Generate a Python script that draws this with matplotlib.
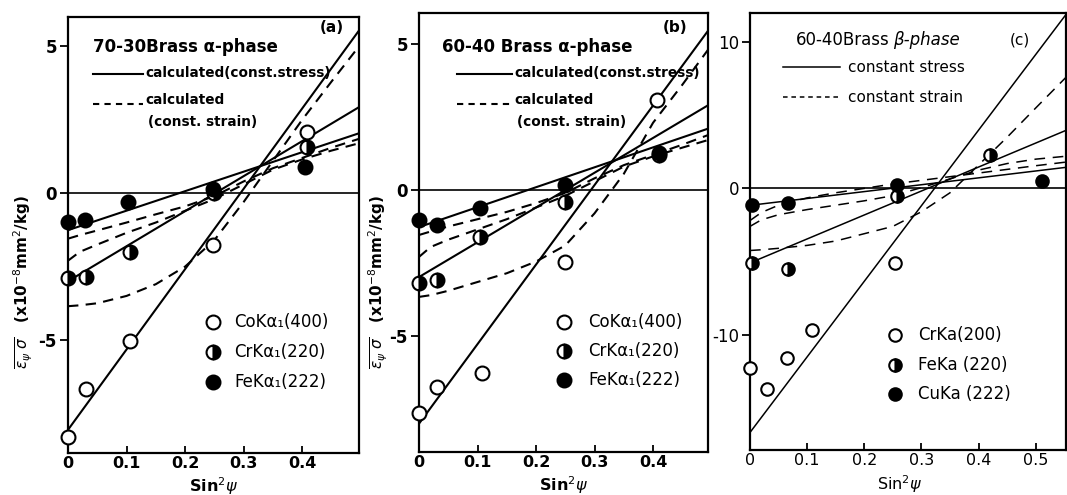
import numpy as np
import matplotlib.pyplot as plt
from matplotlib.lines import Line2D

W, H = 1067, 495

# ---- panel (a): 70-30 brass, alpha phase ----
a_co_x = [0, 0.031, 0.106, 0.248, 0.408]
a_co_y = [-8.3, -6.67, -5.03, -1.77, 2.08]
a_cr_x = [0, 0.031, 0.106, 0.25, 0.408]
a_cr_y = [-2.9, -2.85, -2.0, 0.0, 1.57]
a_fe_x = [0, 0.029, 0.103, 0.248, 0.405]
a_fe_y = [-0.98, -0.9, -0.3, 0.15, 0.88]

a_stress_x = [0, 0.497]
a_stress_co = [-8.06, 5.54]
a_stress_cr = [-3.0, 2.93]
a_stress_fe = [-1.26, 2.04]

a_strain_x = [0, 0.02, 0.05, 0.1, 0.15, 0.2, 0.25, 0.3, 0.35, 0.4, 0.45, 0.497]
a_strain_co = [-3.85, -3.82, -3.75, -3.5, -3.1, -2.5, -1.6, -0.3, 1.1, 2.5, 3.8, 5.0]
a_strain_cr = [-2.3, -2.0, -1.75, -1.35, -1.0, -0.6, -0.2, 0.3, 0.8, 1.15, 1.45, 1.7]
a_strain_fe = [-1.55, -1.43, -1.27, -1.0, -0.72, -0.45, -0.1, 0.4, 0.85, 1.2, 1.55, 1.85]

# ---- panel (b): 60-40 brass, alpha phase ----
b_co_x = [0, 0.031, 0.107, 0.25, 0.407]
b_co_y = [-7.64, -6.74, -6.27, -2.45, 3.08]
b_cr_x = [0, 0.031, 0.104, 0.25, 0.41]
b_cr_y = [-3.18, -3.08, -1.6, -0.41, 1.2]
b_fe_x = [0, 0.031, 0.104, 0.25, 0.41]
b_fe_y = [-1.03, -1.2, -0.62, 0.17, 1.27]

b_stress_x = [0, 0.494]
b_stress_co = [-8.0, 5.45]
b_stress_cr = [-2.98, 2.9]
b_stress_fe = [-1.27, 2.1]

b_strain_x = [0, 0.02, 0.05, 0.1, 0.15, 0.2, 0.25, 0.3, 0.35, 0.4, 0.45, 0.494]
b_strain_co = [-3.66, -3.6, -3.45, -3.15, -2.85, -2.45, -1.9, -0.8, 0.55, 2.3, 3.6, 4.8]
b_strain_cr = [-2.29, -1.95, -1.7, -1.35, -1.0, -0.6, -0.2, 0.3, 0.8, 1.15, 1.45, 1.71]
b_strain_fe = [-1.54, -1.42, -1.25, -1.0, -0.75, -0.45, -0.1, 0.4, 0.85, 1.2, 1.55, 1.88]

# ---- panel (c): 60-40 brass, beta phase ----
c_cr_x = [0, 0.029, 0.064, 0.108, 0.254]
c_cr_y = [-12.3, -13.7, -11.6, -9.7, -5.1]
c_fe_x = [0.003, 0.067, 0.257, 0.42]
c_fe_y = [-5.1, -5.5, -0.5, 2.26]
c_cu_x = [0.003, 0.067, 0.257, 0.511]
c_cu_y = [-1.16, -1.0, 0.2, 0.48]

c_stress_x = [0, 0.553]
c_stress_cr = [-16.7, 11.9]
c_stress_fe = [-5.1, 3.97]
c_stress_cu = [-1.16, 1.44]

c_strain_x = [0, 0.02, 0.05, 0.1, 0.15, 0.2, 0.25, 0.3, 0.35, 0.4, 0.45, 0.5, 0.553]
c_strain_cr = [-4.25, -4.2, -4.1, -3.9, -3.6, -3.1, -2.6, -1.6, -0.3, 1.6, 3.5, 5.5, 7.6]
c_strain_fe = [-2.6, -2.15, -1.8, -1.45, -1.15, -0.85, -0.5, 0.05, 0.65, 1.25, 1.7, 2.0, 2.2]
c_strain_cu = [-2.2, -1.65, -1.15, -0.65, -0.3, 0.0, 0.3, 0.55, 0.8, 1.05, 1.3, 1.55, 1.8]

x_ticks_ab = [0, 0.1, 0.2, 0.3, 0.4]
x_labels_ab = ['0', '0.1', '0.2', '0.3', '0.4']
x_ticks_c = [0, 0.1, 0.2, 0.3, 0.4, 0.5]
x_labels_c = ['0', '0.1', '0.2', '0.3', '0.4', '0.5']


def fx(px):
    return px / W


def fy(py):
    return 1 - py / H


def ax_rect(l, t, r, b):
    return [fx(l), fy(b), (r - l) / W, (b - t) / H]


fig = plt.figure(figsize=(W / 100, H / 100), dpi=100)

ax_a = fig.add_axes(ax_rect(68, 17, 359, 453))
ax_b = fig.add_axes(ax_rect(419, 13, 708, 452))
ax_c = fig.add_axes(ax_rect(750, 13, 1066, 450))

DASH = (5, 3.5)


def draw_points(ax, x, y, kind, ms=10):
    if kind == 'open':
        ax.plot(x, y, 'o', ms=ms, mfc='white', mec='black', mew=1.5, zorder=5, clip_on=False)
    elif kind == 'half':
        ax.plot(x, y, 'o', ms=ms, mfc='black', mfcalt='white', fillstyle='right',
                mec='black', mew=1.5, zorder=5, clip_on=False)
    else:
        ax.plot(x, y, 'o', ms=ms, mfc='black', mec='black', mew=1.5, zorder=5, clip_on=False)


def style_axes(ax, xlim, ylim, xt, xl, yt, yl, bold):
    ax.set_xlim(*xlim)
    ax.set_ylim(*ylim)
    ax.axhline(0, color='black', lw=1.2, zorder=1)
    ax.set_xticks(xt)
    ax.set_xticklabels(xl)
    ax.set_yticks(yt)
    ax.set_yticklabels(yl)
    ax.tick_params(axis='x', direction='in', length=5, width=1.3, labelsize=11.5, pad=2)
    ax.tick_params(axis='y', direction='out', length=6, width=1.3, labelsize=12, pad=2)
    for lab in ax.get_xticklabels() + ax.get_yticklabels():
        lab.set_fontweight('bold' if bold else 'normal')
    for s in ax.spines.values():
        s.set_linewidth(1.6)


# panel (a)
lw_ab = 1.5
for ys in [a_stress_co, a_stress_cr, a_stress_fe]:
    ax_a.plot(a_stress_x, ys, color='black', lw=lw_ab)
for ys in [a_strain_co, a_strain_cr, a_strain_fe]:
    ax_a.plot(a_strain_x, ys, color='black', lw=lw_ab, dashes=DASH)
draw_points(ax_a, a_co_x, a_co_y, 'open')
draw_points(ax_a, a_cr_x, a_cr_y, 'half')
draw_points(ax_a, a_fe_x, a_fe_y, 'filled')
style_axes(ax_a, (0, 0.497), (-8.85, 6.0), x_ticks_ab, x_labels_ab, [5, 0, -5], ['5', '0', '-5'], True)

# panel (b)
for ys in [b_stress_co, b_stress_cr, b_stress_fe]:
    ax_b.plot(b_stress_x, ys, color='black', lw=lw_ab)
for ys in [b_strain_co, b_strain_cr, b_strain_fe]:
    ax_b.plot(b_strain_x, ys, color='black', lw=lw_ab, dashes=DASH)
draw_points(ax_b, b_co_x, b_co_y, 'open')
draw_points(ax_b, b_cr_x, b_cr_y, 'half')
draw_points(ax_b, b_fe_x, b_fe_y, 'filled')
style_axes(ax_b, (0, 0.494), (-8.97, 6.06), x_ticks_ab, x_labels_ab, [5, 0, -5], ['5', '0', '-5'], True)

# panel (c)
lw_c = 1.1
for ys in [c_stress_cr, c_stress_fe, c_stress_cu]:
    ax_c.plot(c_stress_x, ys, color='black', lw=lw_c)
for ys in [c_strain_cr, c_strain_fe, c_strain_cu]:
    ax_c.plot(c_strain_x, ys, color='black', lw=lw_c, dashes=(7, 5))
draw_points(ax_c, c_cr_x, c_cr_y, 'open', ms=9)
draw_points(ax_c, c_fe_x, c_fe_y, 'half', ms=9)
draw_points(ax_c, c_cu_x, c_cu_y, 'filled', ms=9)
style_axes(ax_c, (0, 0.553), (-17.9, 12.0), x_ticks_c, x_labels_c, [10, 0, -10], ['10', '0', '-10'], False)


# ---- annotations (figure pixel positions) ----
def ftext(px, py, s, **kw):
    kw.setdefault('va', 'center')
    fig.text(fx(px), fy(py), s, **kw)


def fline(x0, x1, py, dashed=False, lw=1.5):
    ln = Line2D([fx(x0), fx(x1)], [fy(py), fy(py)], color='black', lw=lw,
                transform=fig.transFigure)
    if dashed:
        ln.set_dashes((3, 2.5))
    fig.add_artist(ln)


def fmarker(px, py, kind, ms=10):
    kw = dict(ms=ms, mec='black', mew=1.5, transform=fig.transFigure)
    if kind == 'open':
        ln = Line2D([fx(px)], [fy(py)], marker='o', mfc='white', **kw)
    elif kind == 'half':
        ln = Line2D([fx(px)], [fy(py)], marker='o', mfc='black', fillstyle='right',
                    markerfacecoloralt='white', **kw)
    else:
        ln = Line2D([fx(px)], [fy(py)], marker='o', mfc='black', **kw)
    fig.add_artist(ln)


# (a)
ftext(93, 47, '70-30Brass α-phase', fontsize=12, fontweight='bold')
ftext(320, 28, '(a)', fontsize=11, fontweight='bold')
fline(93, 143, 74)
ftext(145, 73, 'calculated(const.stress)', fontsize=9.8, fontweight='bold')
fline(93, 143, 104, dashed=True)
ftext(145, 100, 'calculated', fontsize=9.8, fontweight='bold')
ftext(148, 122, '(const. strain)', fontsize=9.8, fontweight='bold')
fmarker(213, 322, 'open')
fmarker(213, 352, 'half')
fmarker(213, 382, 'filled')
ftext(234, 322, 'CoKα₁(400)', fontsize=12)
ftext(234, 352, 'CrKα₁(220)', fontsize=12)
ftext(234, 382, 'FeKα₁(222)', fontsize=12)
ftext(213, 486, 'Sin$^2\\psi$', fontsize=11.5, fontweight='bold', ha='center')
ftext(23, 282, r'$\overline{\varepsilon_\psi\ \sigma}$   (x10$^{-8}$mm$^2$/kg)', fontsize=11,
      rotation=90, ha='center', fontweight='bold')

# (b)
ftext(442, 47, '60-40 Brass α-phase', fontsize=12, fontweight='bold')
ftext(663, 28, '(b)', fontsize=11, fontweight='bold')
fline(457, 512, 74)
ftext(514, 73, 'calculated(const.stress)', fontsize=9.8, fontweight='bold')
fline(457, 512, 104, dashed=True)
ftext(514, 100, 'calculated', fontsize=9.8, fontweight='bold')
ftext(517, 122, '(const. strain)', fontsize=9.8, fontweight='bold')
fmarker(564, 322, 'open')
fmarker(564, 351, 'half')
fmarker(564, 380, 'filled')
ftext(588, 322, 'CoKα₁(400)', fontsize=12)
ftext(588, 351, 'CrKα₁(220)', fontsize=12)
ftext(588, 380, 'FeKα₁(222)', fontsize=12)
ftext(563, 485, 'Sin$^2\\psi$', fontsize=11.5, fontweight='bold', ha='center')
ftext(378, 282, r'$\overline{\varepsilon_\psi\ \sigma}$   (x10$^{-8}$mm$^2$/kg)', fontsize=11,
      rotation=90, ha='center', fontweight='bold')

# (c)
ftext(796, 40, '60-40Brass', fontsize=12)
ftext(893, 40, 'β-phase', fontsize=12, style='italic')
ftext(1010, 40, '(c)', fontsize=11)
fline(783, 840, 67, lw=1.1)
ftext(848, 67, 'constant stress', fontsize=11)
fline(783, 840, 97, dashed=True, lw=1.1)
ftext(848, 97, 'constant strain', fontsize=11)
fmarker(895, 335, 'open', ms=9)
fmarker(895, 365, 'half', ms=9)
fmarker(895, 394, 'filled', ms=9)
ftext(918, 335, 'CrKa(200)', fontsize=12)
ftext(918, 365, 'FeKa (220)', fontsize=12)
ftext(918, 394, 'CuKa (222)', fontsize=12)
ftext(900, 484, 'Sin$^2\\psi$', fontsize=11.5, ha='center')

fig.savefig('out.png', dpi=100)
